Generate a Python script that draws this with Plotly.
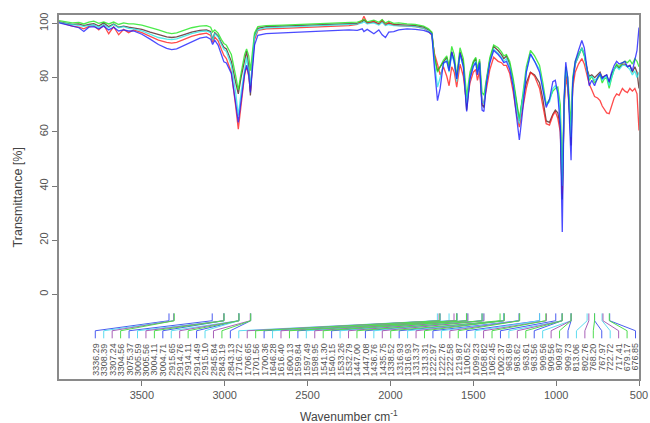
import numpy as np
import plotly.graph_objects as go

# ---------------- data ----------------
wavenumber = [4000, 3960, 3920, 3880, 3850, 3820, 3790, 3760, 3730, 3700, 3670, 3640, 3610, 3580, 3550,
              3500, 3450, 3400, 3350, 3320, 3290, 3250, 3200, 3150, 3110, 3085, 3073, 3060, 3040, 3020,
              3005, 2990, 2960, 2935, 2918, 2900, 2880, 2868, 2855, 2845, 2835, 2820, 2800, 2750, 2650,
              2550, 2450, 2350, 2250, 2200, 2170, 2160, 2140, 2100, 2070, 2050, 2030, 2010, 1980, 1950,
              1900, 1850, 1800, 1770, 1750, 1735, 1716, 1700, 1680, 1660, 1646, 1630, 1615, 1600, 1580,
              1560, 1540, 1520, 1500, 1485, 1475, 1462, 1447, 1436, 1420, 1400, 1377, 1350, 1330, 1316,
              1300, 1280, 1260, 1240, 1222, 1205, 1180, 1155, 1130, 1100, 1080, 1060, 1040, 1020, 1005,
              990, 975, 963, 952, 942, 930, 920, 910, 900, 885, 865, 845, 830, 813, 800,
              785, 768, 750, 735, 722, 710, 695, 680, 665, 650, 635, 620, 600, 585, 570,
              555, 540, 525, 512, 500]

green = [101.0, 100.6, 100.2, 100.4, 99.8, 100.5, 100.8, 100.0, 100.5, 99.8, 100.5, 99.6, 100.2, 99.8, 99.8,
         99.4, 98.6, 97.6, 96.6, 96.2, 96.5, 97.4, 98.4, 99.0, 99.2, 98.6, 96.8, 97.6, 96.4, 94.0,
         92.6, 92.0, 88.5, 81.0, 75.5, 82.0, 88.5, 90.6, 88.0, 82.6, 88.0, 96.5, 98.8, 99.2, 99.4,
         99.6, 99.8, 100.0, 100.2, 100.5, 101.0, 101.5, 100.6, 101.2, 100.4, 101.4, 100.2, 100.8, 100.0, 100.2,
         99.8, 99.6, 99.0, 98.0, 96.8, 88.0, 82.0, 84.0, 86.5, 88.0, 84.0, 91.5, 88.5, 80.5, 91.0,
         87.0, 73.0, 82.0, 86.0, 87.5, 83.0, 86.8, 74.5, 73.5, 80.5, 87.5, 92.0, 91.0, 89.5, 88.0,
         88.5, 86.0, 80.0, 71.0, 64.5, 72.0, 84.0, 90.0, 88.0, 84.5, 78.0, 70.0, 72.0, 75.0, 76.0,
         76.5, 70.0, 42.0, 72.0, 84.0, 80.0, 72.0, 62.0, 80.0, 86.0, 89.0, 90.6, 88.0, 82.0, 79.0,
         80.5, 78.0, 79.5, 81.0, 78.0, 79.5, 80.0, 76.0, 80.0, 83.0, 85.0, 84.0, 85.5, 86.0, 85.5,
         86.5, 85.0, 87.0, 86.0, 84.0]

dark = [100.6, 100.2, 99.6, 99.8, 99.2, 99.6, 99.9, 99.0, 100.2, 98.8, 99.8, 98.6, 99.0, 98.6, 98.4,
        97.8, 96.8, 95.8, 95.0, 94.8, 95.0, 95.8, 96.8, 97.4, 97.6, 97.0, 94.0, 96.6, 95.4, 92.8,
        91.2, 90.6, 86.0, 78.5, 74.0, 80.5, 87.0, 89.8, 84.0, 73.4, 84.0, 95.5, 98.2, 98.8, 99.0,
        99.2, 99.4, 99.6, 99.8, 100.0, 100.6, 101.2, 100.2, 100.6, 99.8, 100.8, 99.6, 100.0, 99.6, 99.6,
        99.4, 99.2, 98.6, 97.6, 96.4, 88.0, 82.5, 84.0, 86.0, 87.5, 83.5, 89.5, 86.0, 79.5, 89.5,
        85.5, 68.0, 80.5, 85.5, 87.0, 82.0, 86.0, 70.0, 69.0, 79.0, 86.5, 91.5, 90.0, 88.5, 87.0,
        88.0, 85.0, 78.5, 70.0, 64.0, 71.5, 78.0, 82.0, 81.0, 78.0, 72.0, 64.0, 63.5, 66.5, 68.0,
        67.0, 62.0, 35.0, 70.0, 82.0, 78.0, 68.0, 55.0, 78.0, 85.0, 88.0, 91.0, 88.5, 83.0, 80.5,
        81.0, 80.0, 81.0, 82.0, 80.0, 80.5, 81.0, 78.0, 81.5, 83.0, 84.5, 83.5, 85.0, 85.0, 84.0,
        84.5, 82.0, 84.0, 82.0, 76.0]

cyan = [100.4, 100.0, 99.4, 99.2, 98.9, 99.3, 99.4, 98.6, 99.6, 98.4, 99.6, 98.4, 98.8, 98.2, 98.0,
        97.2, 96.0, 94.8, 94.2, 94.0, 94.3, 95.2, 96.2, 97.0, 97.2, 96.6, 93.8, 96.2, 95.0, 92.2,
        90.4, 89.6, 84.5, 75.0, 66.0, 75.0, 84.0, 87.5, 82.0, 77.0, 84.0, 95.0, 97.6, 98.4, 98.6,
        98.8, 99.0, 99.2, 99.4, 99.7, 100.2, 100.6, 99.8, 100.2, 99.4, 100.4, 99.2, 99.6, 99.2, 99.2,
        99.0, 98.8, 98.2, 97.2, 96.0, 86.0, 76.5, 80.0, 85.0, 86.5, 82.0, 88.5, 85.5, 78.5, 88.5,
        84.0, 70.5, 80.0, 84.5, 86.0, 81.5, 85.5, 71.0, 70.5, 78.5, 86.0, 90.5, 89.0, 87.5, 86.0,
        87.0, 84.0, 78.0, 69.0, 63.0, 71.0, 82.0, 88.5, 86.0, 83.0, 76.0, 70.0, 71.0, 76.0, 77.0,
        75.0, 66.0, 40.0, 70.0, 83.0, 79.0, 70.0, 58.0, 79.0, 85.0, 88.0, 91.0, 88.5, 82.0, 80.0,
        80.5, 79.0, 80.0, 81.5, 79.0, 80.0, 80.5, 77.0, 80.5, 83.0, 84.0, 83.0, 84.5, 84.5, 84.0,
        83.0, 81.0, 82.5, 80.0, 82.0]

red = [100.5, 99.8, 99.0, 98.6, 98.0, 98.9, 99.2, 97.6, 99.4, 96.2, 98.8, 95.8, 97.8, 96.6, 97.6,
       96.6, 95.2, 93.8, 93.0, 92.7, 93.0, 94.0, 95.2, 96.0, 96.4, 95.6, 93.0, 95.0, 93.6, 90.4,
       88.2, 87.0, 82.0, 70.0, 61.0, 70.5, 81.0, 84.2, 80.5, 75.0, 83.0, 94.0, 97.4, 98.0, 98.2,
       98.4, 98.7, 98.9, 99.2, 99.6, 101.2, 102.6, 100.0, 100.8, 99.6, 101.2, 99.4, 100.4, 99.4, 99.2,
       99.0, 98.8, 98.2, 97.0, 95.6, 89.0, 85.0, 81.0, 84.0, 80.5, 77.0, 84.0, 82.0, 76.5, 85.0,
       80.5, 70.5, 78.0, 82.0, 83.0, 79.0, 82.5, 70.5, 71.0, 76.0, 83.0, 87.5, 86.0, 85.5, 84.5,
       84.5, 81.5, 75.0, 67.0, 61.7, 68.0, 76.0, 82.0, 80.5, 76.0, 70.0, 63.0, 62.5, 66.0, 67.5,
       65.0, 60.0, 37.0, 68.0, 80.0, 76.0, 68.0, 60.0, 76.0, 82.0, 85.0, 87.0, 85.0, 80.0, 77.5,
       75.5, 73.0, 72.5, 71.5, 69.5, 68.5, 67.0, 66.7, 69.5, 72.5, 74.0, 73.5, 76.0, 75.0, 74.5,
       76.0, 75.0, 76.0, 74.0, 60.5]

blue = [100.2, 99.6, 98.9, 98.4, 97.0, 98.6, 98.8, 98.0, 99.0, 97.6, 98.6, 97.2, 97.6, 97.2, 97.2,
        96.0, 94.2, 92.2, 90.8, 90.3, 90.6, 91.8, 93.4, 94.6, 95.0, 94.2, 92.2, 93.8, 92.0, 88.6,
        85.8, 85.4, 81.5, 71.0, 63.5, 72.0, 81.5, 84.6, 81.0, 74.5, 83.0, 92.0, 95.6, 96.2, 96.5,
        96.8, 97.0, 97.2, 97.6, 97.4, 98.0, 97.0, 97.8, 96.2, 97.6, 95.8, 94.8, 96.8, 97.0, 97.6,
        98.0, 97.8, 97.4, 96.8, 96.0, 84.0, 71.5, 76.0, 85.5, 86.0, 82.5, 89.5, 86.0, 79.5, 89.0,
        84.0, 67.5, 79.5, 84.0, 85.5, 81.0, 85.5, 68.0, 67.5, 78.0, 85.5, 90.0, 88.5, 87.0, 85.5,
        86.0, 83.0, 77.0, 66.0, 57.0, 66.0, 82.0, 88.8, 86.0, 82.0, 75.0, 69.0, 72.0, 78.5, 79.0,
        74.0, 62.0, 23.0, 72.0, 85.7, 80.0, 66.0, 49.5, 78.0, 86.0, 90.0, 93.7, 91.0, 84.0, 77.0,
        79.0, 77.0, 80.0, 81.5, 79.5, 80.5, 81.0, 78.5, 82.0, 84.5, 86.0, 85.0, 85.5, 86.0, 84.0,
        84.5, 82.5, 86.0, 90.0, 98.5]

peak_labels = ["3336.29", "3308.39", "3307.24", "3304.56", "3075.37", "3005.59", "3005.56", "3004.11",
               "3004.71", "2915.65", "2914.76", "2914.11", "2914.49", "2915.10", "2845.84", "2843.19",
               "2843.13", "1716.72", "1706.65", "1701.56", "1700.36", "1646.28", "1616.40", "1600.13",
               "1599.84", "1597.49", "1598.95", "1541.30", "1540.15", "1533.26", "1532.79", "1447.00",
               "1447.08", "1436.76", "1435.75", "1338.52", "1316.93", "1316.93", "1313.37", "1313.31",
               "1222.97", "1222.76", "1222.58", "1219.87", "1100.52", "1099.23", "1058.82", "1062.45",
               "1002.37", "963.69", "963.62", "963.61", "963.56", "909.56", "909.56", "909.87",
               "909.73", "813.06", "802.76", "768.20", "767.97", "722.72", "717.41", "679.17", "676.85"]

x_ticks = [3500, 3000, 2500, 2000, 1500, 1000, 500]
y_ticks = [0, 20, 40, 60, 80, 100]

# ---------------- figure ----------------
fig = go.Figure()

series = [
    ("dark", dark, "rgba(70,20,20,0.75)"),
    ("red", red, "rgba(255,30,30,0.8)"),
    ("green", green, "rgba(30,230,30,0.8)"),
    ("cyan", cyan, "rgba(40,230,230,0.8)"),
    ("blue", blue, "rgba(30,30,255,0.8)"),
]
for name, ys, col in series:
    fig.add_trace(go.Scatter(x=wavenumber, y=ys, mode="lines", name=name,
                             line=dict(color=col, width=1.3), hoverinfo="skip"))

# peak label leaders
leader_cols = ["#4a5cf0", "#5edcf0", "#a860b8", "#50dc50"]
n = len(peak_labels)
label_x = np.linspace(3781, 521, n)
peaks = [float(s) for s in peak_labels]
y_top, y_mid, y_low, y_bot = -7.0, -9.7, -13.4, -16.2
for ci, col in enumerate(leader_cols):
    xs, ys = [], []
    for i in range(ci, n, len(leader_cols)):
        xs += [peaks[i], peaks[i], label_x[i], label_x[i], None]
        ys += [y_top, y_mid, y_low, y_bot, None]
    fig.add_trace(go.Scatter(x=xs, y=ys, mode="lines", line=dict(color=col, width=1),
                             hoverinfo="skip", showlegend=False))

annotations = []
for i, s in enumerate(peak_labels):
    annotations.append(dict(x=label_x[i], y=-17.2, xref="x", yref="y", text=s, showarrow=False,
                            textangle=-90, xanchor="center", yanchor="top",
                            font=dict(size=9, color="#555", family="Liberation Sans, Arial")))

annotations.append(dict(x=0.5, y=-0.075, xref="paper", yref="paper",
                        text="Wavenumber cm<sup>-1</sup>", showarrow=False,
                        xanchor="center", yanchor="top",
                        font=dict(size=12, color="#444", family="Liberation Sans, Arial")))
annotations.append(dict(x=-0.07, y=0.5, xref="paper", yref="paper", text="Transmittance [%]",
                        showarrow=False, textangle=-90, xanchor="center", yanchor="middle",
                        font=dict(size=12.5, color="#444", family="Liberation Sans, Arial")))

axis_common = dict(showgrid=False, zeroline=False, showline=True, mirror=True,
                   linecolor="#8a8a8a", linewidth=1.5, ticks="outside", ticklen=5,
                   tickcolor="#777", tickwidth=1, automargin=False,
                   tickfont=dict(size=11, color="#555", family="Liberation Sans, Arial"))

fig.update_layout(
    width=650, height=423,
    margin=dict(l=59, r=11, t=15, b=44, autoexpand=False),
    paper_bgcolor="white", plot_bgcolor="white",
    showlegend=False,
    xaxis=dict(range=[4000, 500], tickvals=x_ticks, ticktext=[str(v) for v in x_ticks], **axis_common),
    yaxis=dict(range=[-31.2, 103.1], tickvals=y_ticks, ticktext=[str(v) for v in y_ticks],
               tickangle=-90, **axis_common),
    annotations=annotations,
)

fig.write_html("out.html", config={"displayModeBar": False},
               post_script="document.body.style.margin='0';document.body.style.overflow='hidden';")
